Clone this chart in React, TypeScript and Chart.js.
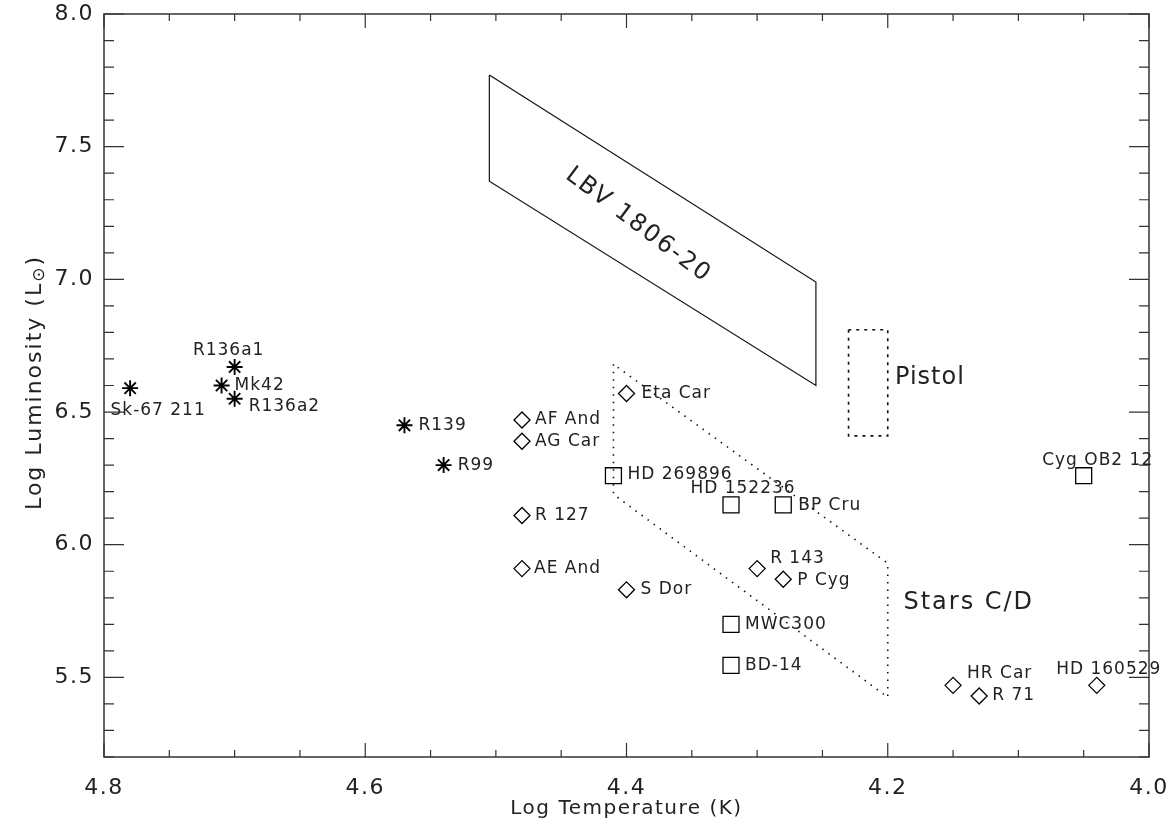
import React, { useEffect, useRef } from 'react';
import { Chart, registerables } from 'chart.js';

Chart.register(...registerables);

// ---------- data ----------
const hotStarNames = ['Sk-67 211', 'R136a1', 'Mk42', 'R136a2', 'R139', 'R99'];
const hotStarTemp = [4.78, 4.70, 4.71, 4.70, 4.57, 4.54];
const hotStarLum = [6.59, 6.67, 6.60, 6.55, 6.45, 6.30];

const lbvNames = ['Eta Car', 'AF And', 'AG Car', 'R 127', 'AE And', 'S Dor', 'R 143', 'P Cyg', 'HR Car', 'R 71', 'HD 160529'];
const lbvTemp = [4.40, 4.48, 4.48, 4.48, 4.48, 4.40, 4.30, 4.28, 4.15, 4.13, 4.04];
const lbvLum = [6.57, 6.47, 6.39, 6.11, 5.91, 5.83, 5.91, 5.87, 5.47, 5.43, 5.47];

const candNames = ['HD 269896', 'HD 152236', 'BP Cru', 'MWC300', 'BD-14', 'Cyg OB2 12'];
const candTemp = [4.41, 4.32, 4.28, 4.32, 4.32, 4.05];
const candLum = [6.26, 6.15, 6.15, 5.70, 5.545, 6.26];

const lbv1806Temp = [4.505, 4.505, 4.255, 4.255, 4.505];
const lbv1806Lum = [7.77, 7.37, 6.60, 6.99, 7.77];

const starsCDTemp = [4.41, 4.41, 4.20, 4.20, 4.41];
const starsCDLum = [6.68, 6.19, 5.425, 5.93, 6.68];

const pistolTemp = [4.23, 4.23, 4.20, 4.20, 4.23];
const pistolLum = [6.81, 6.41, 6.41, 6.81, 6.81];

const regionNames = ['LBV 1806-20', 'Pistol', 'Stars C/D'];
const regionTemp = [4.391, 4.1945, 4.188];
const regionLum = [7.204, 6.631, 5.783];

const xTickValues = [4.8, 4.6, 4.4, 4.2, 4.0];
const yTickValues = [5.5, 6.0, 6.5, 7.0, 7.5, 8.0];
const xRange = [4.0, 4.8];
const yRange = [5.2, 8.0];

// ---------- layout / style (not data) ----------
type Place = { dx: number; dy: number; align: CanvasTextAlign };
const labelPlacement: Record<string, Place> = {
  'Sk-67 211': { dx: 28, dy: 22, align: 'center' },
  'R136a1': { dx: -6, dy: -16, align: 'center' },
  'Mk42': { dx: 13, dy: 0, align: 'left' },
  'R136a2': { dx: 14, dy: 8, align: 'left' },
  'R139': { dx: 14, dy: 0, align: 'left' },
  'R99': { dx: 14, dy: 0, align: 'left' },
  'Eta Car': { dx: 15, dy: 0, align: 'left' },
  'AF And': { dx: 13, dy: 0, align: 'left' },
  'AG Car': { dx: 13, dy: 0, align: 'left' },
  'R 127': { dx: 13, dy: 0, align: 'left' },
  'AE And': { dx: 12, dy: 0, align: 'left' },
  'S Dor': { dx: 14, dy: 0, align: 'left' },
  'R 143': { dx: 13, dy: -10, align: 'left' },
  'P Cyg': { dx: 14, dy: 1, align: 'left' },
  'HR Car': { dx: 14, dy: -12, align: 'left' },
  'R 71': { dx: 13, dy: 0, align: 'left' },
  'HD 160529': { dx: 12, dy: -16, align: 'center' },
  'HD 269896': { dx: 14, dy: -1, align: 'left' },
  'HD 152236': { dx: 12, dy: -16, align: 'center' },
  'BP Cru': { dx: 15, dy: 1, align: 'left' },
  'MWC300': { dx: 14, dy: 0, align: 'left' },
  'BD-14': { dx: 14, dy: 0, align: 'left' },
  'Cyg OB2 12': { dx: 14, dy: -15, align: 'center' },
};

const FONT = '"DejaVu Sans", "Liberation Sans", sans-serif';
const INK = '#222';

const pts = (xs: number[], ys: number[]) => xs.map((x, i) => ({ x, y: ys[i] }));

const spacing = {
  id: 'spacing',
  beforeDraw(chart: any) {
    (chart.ctx as any).letterSpacing = '1.5px';
  },
};

const frameAndTicks = {
  id: 'frameAndTicks',
  afterDatasetsDraw(chart: any) {
    const { ctx, chartArea: a, scales } = chart;
    const xs = scales.x, ys = scales.y;
    ctx.save();
    ctx.strokeStyle = '#333';
    ctx.lineWidth = 1.5;
    ctx.strokeRect(a.left, a.top, a.right - a.left, a.bottom - a.top);
    ctx.lineWidth = 1.2;
    ctx.beginPath();
    // x ticks: minor every 0.05, major every 0.2
    for (let i = 0; i <= 16; i++) {
      const v = xRange[0] + i * 0.05;
      const px = xs.getPixelForValue(v);
      const len = i % 4 === 0 ? 14 : 7;
      ctx.moveTo(px, a.bottom); ctx.lineTo(px, a.bottom - len);
      ctx.moveTo(px, a.top); ctx.lineTo(px, a.top + len);
    }
    // y ticks: minor every 0.1, major every 0.5
    for (let i = 0; i <= 28; i++) {
      const v = yRange[0] + i * 0.1;
      const py = ys.getPixelForValue(v);
      const r = Math.round(v * 10) % 5 === 0;
      const len = r ? 20 : 10;
      ctx.moveTo(a.left, py); ctx.lineTo(a.left + len, py);
      ctx.moveTo(a.right, py); ctx.lineTo(a.right - len, py);
    }
    ctx.stroke();

    // point labels
    ctx.fillStyle = INK;
    ctx.font = `17px ${FONT}`;
    (ctx as any).letterSpacing = '1px';
    ctx.textBaseline = 'middle';
    chart.data.datasets.forEach((ds: any, di: number) => {
      if (!ds.names) return;
      const meta = chart.getDatasetMeta(di);
      meta.data.forEach((el: any, i: number) => {
        const name = ds.names[i];
        const p = labelPlacement[name] || { dx: 12, dy: 0, align: 'left' };
        ctx.textAlign = p.align;
        ctx.fillText(name, el.x + p.dx, el.y + p.dy);
      });
    });

    // region labels
    ctx.font = `24px ${FONT}`;
    regionNames.forEach((name, i) => {
      const px = xs.getPixelForValue(regionTemp[i]);
      const py = ys.getPixelForValue(regionLum[i]);
      (ctx as any).letterSpacing = i === 1 ? '1px' : '2px';
      if (i === 0) {
        ctx.save();
        ctx.translate(px, py);
        ctx.rotate((37 * Math.PI) / 180);
        ctx.textAlign = 'center';
        ctx.fillText(name, 0, 0);
        ctx.restore();
      } else {
        ctx.textAlign = 'left';
        ctx.fillText(name, px, py);
      }
    });

    // y-axis title with subscript sun symbol
    (ctx as any).letterSpacing = '2px';
    const cy = (a.top + a.bottom) / 2;
    ctx.translate(41, cy - 3);
    ctx.rotate(-Math.PI / 2);
    ctx.textBaseline = 'alphabetic';
    ctx.textAlign = 'left';
    ctx.font = `22px ${FONT}`;
    const t1 = 'Log Luminosity (L';
    const w1 = ctx.measureText(t1).width;
    ctx.font = `17px ${FONT}`;
    const sun = '\u2299';
    const w2 = ctx.measureText(sun).width;
    ctx.font = `22px ${FONT}`;
    const w3 = ctx.measureText(')').width;
    const start = -(w1 + w2 + w3) / 2;
    ctx.fillText(t1, start, 0);
    ctx.font = `17px ${FONT}`;
    ctx.fillText(sun, start + w1, 3);
    ctx.font = `22px ${FONT}`;
    ctx.fillText(')', start + w1 + w2, 0);
    ctx.restore();
  },
};

export default function App() {
  const ref = useRef<HTMLCanvasElement | null>(null);

  useEffect(() => {
    if (!ref.current) return;
    const lineDs = (data: any[], dash: number[]) => ({
      type: 'line' as const,
      data,
      showLine: true,
      borderColor: '#111',
      borderWidth: dash.length ? 1.6 : 1.2,
      borderDash: dash,
      pointRadius: 0,
      fill: false,
      tension: 0,
    });
    const chart = new Chart(ref.current, {
      type: 'scatter',
      data: {
        datasets: [
          lineDs(pts(lbv1806Temp, lbv1806Lum), []),
          lineDs(pts(starsCDTemp, starsCDLum), [1.5, 6]),
          lineDs(pts(pistolTemp, pistolLum), [3, 5]),
          {
            data: pts(hotStarTemp, hotStarLum),
            names: hotStarNames,
            pointStyle: 'star',
            pointRadius: 8,
            borderColor: '#000',
            backgroundColor: 'transparent',
            borderWidth: 1.9,
          } as any,
          {
            data: pts(lbvTemp, lbvLum),
            names: lbvNames,
            pointStyle: 'rectRot',
            pointRadius: 8,
            borderColor: '#000',
            backgroundColor: 'transparent',
            borderWidth: 1.3,
          } as any,
          {
            data: pts(candTemp, candLum),
            names: candNames,
            pointStyle: 'rect',
            pointRadius: 11.3,
            borderColor: '#000',
            backgroundColor: 'transparent',
            borderWidth: 1.3,
          } as any,
        ],
      },
      options: {
        responsive: false,
        animation: false,
        devicePixelRatio: 1,
        layout: { padding: { top: 14, right: 22, left: 0, bottom: 0 } },
        plugins: { legend: { display: false }, tooltip: { enabled: false } },
        scales: {
          x: {
            type: 'linear',
            reverse: true,
            min: xRange[0],
            max: xRange[1],
            grid: { display: false, drawTicks: false },
            border: { display: false },
            afterBuildTicks: (s: any) => { s.ticks = xTickValues.map((v) => ({ value: v })); },
            afterFit: (s: any) => {
              s.height = 77;
              s.paddingLeft = 0; s.paddingRight = 0; s.paddingTop = 0; s.paddingBottom = 0;
            },
            ticks: {
              padding: 18,
              color: INK,
              font: { family: FONT, size: 22 },
              callback: (v: any) => Number(v).toFixed(1),
              maxRotation: 0,
            },
            title: {
              display: true,
              text: 'Log Temperature (K)',
              color: INK,
              font: { family: FONT, size: 20 },
              padding: { top: 0, bottom: 13 },
            },
          },
          y: {
            type: 'linear',
            min: yRange[0],
            max: yRange[1],
            grid: { display: false, drawTicks: false },
            border: { display: false },
            afterBuildTicks: (s: any) => { s.ticks = yTickValues.map((v) => ({ value: v })); },
            afterFit: (s: any) => {
              s.width = 104;
              s.paddingLeft = 0; s.paddingRight = 0; s.paddingTop = 0; s.paddingBottom = 0;
            },
            ticks: {
              padding: 10,
              color: INK,
              font: { family: FONT, size: 22 },
              callback: (v: any) => Number(v).toFixed(1),
            },
          },
        },
      },
      plugins: [spacing, frameAndTicks],
    } as any);
    return () => chart.destroy();
  }, []);

  return (
    <div style={{ position: 'fixed', left: 0, top: 0, width: 1171, height: 834, background: '#fff' }}>
      <canvas ref={ref} width={1171} height={834} style={{ width: 1171, height: 834, display: 'block' }} />
    </div>
  );
}
